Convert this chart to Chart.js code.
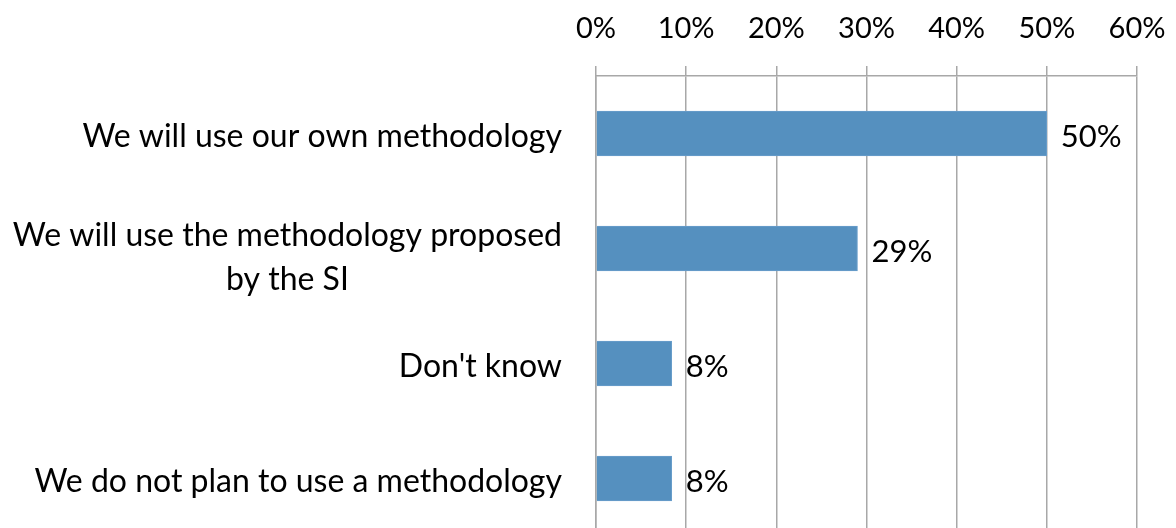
<!DOCTYPE html>
<html>
<head>
<meta charset="utf-8">
<script src="https://cdn.jsdelivr.net/npm/chart.js@4"></script>
<style>
  html, body { margin: 0; padding: 0; background: #fff; overflow: hidden; }
  #wrap { width: 1176px; height: 528px; overflow: hidden; }
</style>
</head>
<body>
<div id="wrap"><canvas id="chart" width="1176" height="536"></canvas></div>
<script>
const categories = [
  'We will use our own methodology',
  ['We will use the methodology proposed', 'by the SI'],
  "Don't know",
  'We do not plan to use a methodology',
];
const shares = [50, 29, 8.4, 8.4];
const tickValues = [0, 10, 20, 30, 40, 50, 60];

const FONT = 'Lato, "Open Sans", sans-serif';

// category labels: right-aligned block, lines centred inside it
const leftLabels = {
  id: 'leftLabels',
  afterDraw(chart) {
    const { ctx, scales: { y } } = chart;
    ctx.save();
    ctx.font = '32px ' + FONT;
    ctx.fillStyle = '#000';
    ctx.textAlign = 'center';
    ctx.textBaseline = 'middle';
    const right = y.right - 34;
    const lineH = 44;
    categories.forEach((lab, i) => {
      const lines = Array.isArray(lab) ? lab : [lab];
      const w = Math.max(...lines.map(l => ctx.measureText(l).width));
      const cy = y.getPixelForTick(i) + 3 + (lines.length - 1) * 6.5;
      const top = cy - (lines.length - 1) * lineH / 2;
      lines.forEach((l, k) => ctx.fillText(l, right - w / 2, top + k * lineH));
    });
    ctx.restore();
  },
};

// value labels right of each bar
const valueLabels = {
  id: 'valueLabels',
  afterDatasetsDraw(chart) {
    const { ctx } = chart;
    const meta = chart.getDatasetMeta(0);
    ctx.save();
    ctx.font = '31px ' + FONT;
    ctx.fillStyle = '#000';
    ctx.textAlign = 'left';
    ctx.textBaseline = 'middle';
    meta.data.forEach((bar, i) => {
      ctx.fillText(Math.round(shares[i]) + '%', bar.x + 14, bar.y + 3);
    });
    ctx.restore();
  },
};

new Chart(document.getElementById('chart'), {
  type: 'bar',
  data: {
    labels: categories,
    datasets: [{
      data: shares,
      backgroundColor: '#5590bf',
      borderColor: '#6a9ecb',
      borderWidth: 1,
      borderSkipped: 'left',
      barThickness: 45,
    }],
  },
  options: {
    indexAxis: 'y',
    responsive: false,
    animation: false,
    devicePixelRatio: 1,
    layout: { padding: { left: 0, right: 39, top: 0, bottom: 0 } },
    plugins: { legend: { display: false }, tooltip: { enabled: false } },
    scales: {
      x: {
        position: 'top',
        min: 0,
        max: 60,
        afterBuildTicks: s => { s.ticks = tickValues.map(v => ({ value: v })); },
        afterFit: s => {
          s.height = 76;
          s.paddingLeft = 0;
          s.paddingRight = 0;
        },
        ticks: {
          color: '#000',
          font: { size: 29, family: FONT },
          padding: 20,
          callback: v => v + '%',
        },
        grid: { color: '#a8a8a8', lineWidth: 1.5, tickLength: 10 },
        border: { color: '#a8a8a8', width: 1.5 },
      },
      y: {
        afterFit: s => { s.width = 596; },
        ticks: { display: false },
        grid: { display: false },
        border: { color: '#a8a8a8', width: 1.5 },
      },
    },
  },
  plugins: [leftLabels, valueLabels],
});
</script>
</body>
</html>
